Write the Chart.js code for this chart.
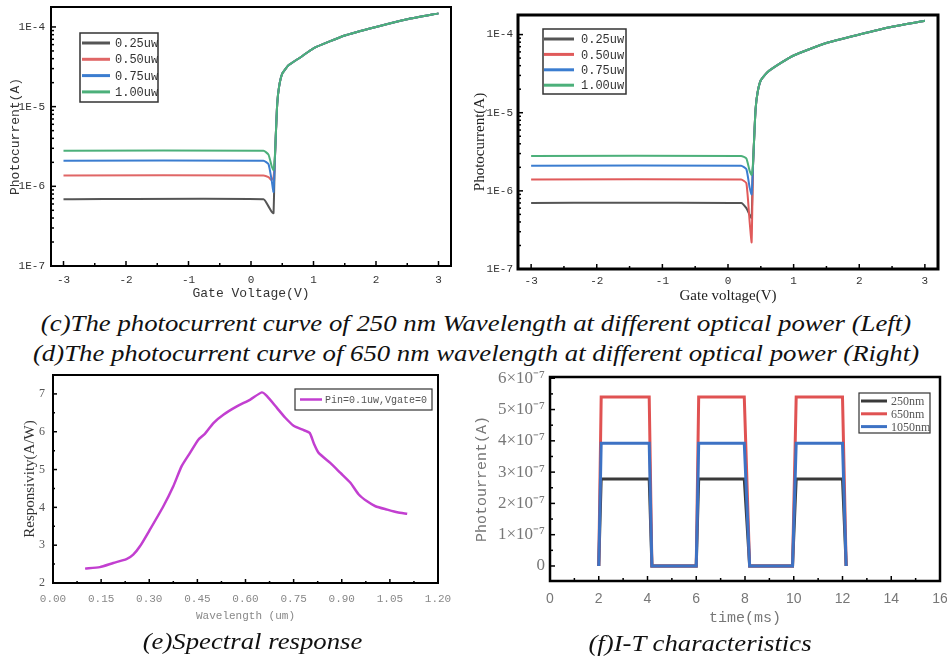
<!DOCTYPE html>
<html>
<head>
<meta charset="utf-8">
<script src="https://cdn.jsdelivr.net/npm/chart.js"></script>
<style>
body { margin: 0; background: #fff; width: 947px; height: 662px; position: relative; overflow: hidden; }
canvas { position: absolute; }
.cap { position: absolute; font-family: "Liberation Serif", serif; font-style: italic; font-size: 24px; line-height: 30px; color: #111; white-space: nowrap; text-align: center; transform: scaleX(1.115); transform-origin: center; }
</style>
</head>
<body>
<canvas id="chartC" width="470" height="305" style="left:0;top:0"></canvas>
<canvas id="chartD" width="477" height="305" style="left:470px;top:0"></canvas>
<div class="cap" style="left:0;width:952px;top:308px">(c)The photocurrent curve of 250 nm Wavelength at different optical power (Left)<br>(d)The photocurrent curve of 650 nm wavelength at different optical power (Right)</div>
<canvas id="chartE" width="470" height="256" style="left:0;top:370px"></canvas>
<canvas id="chartF" width="477" height="262" style="left:470px;top:370px"></canvas>
<div class="cap" style="left:0;width:505px;top:626px">(e)Spectral response</div>
<div class="cap" style="left:470px;width:460px;top:628px">(f)I-T characteristics</div>
<script>
// ---- data ----
const powerLabels = ['0.25uw', '0.50uw', '0.75uw', '1.00uw'];
const gateV = [-3, 0.2, 0.28, 0.33, 0.36, 0.38, 0.40, 0.42, 0.45, 0.5, 0.6, 0.8, 1.0, 1.5, 2.0, 2.5, 3.0];

// (c) 250 nm
const c025 = [6.9e-7, 6.9e-7, 5.6e-7, 4.8e-7, 4.6e-7, 2.0e-6, 5.0e-6, 1.1e-5, 1.8e-5, 2.6e-5, 3.3e-5, 4.2e-5, 5.4e-5, 7.8e-5, 1.0e-4, 1.25e-4, 1.48e-4];
const c050 = [1.37e-6, 1.37e-6, 1.3e-6, 1.2e-6, 1.3e-6, 2.0e-6, 5.0e-6, 1.1e-5, 1.8e-5, 2.6e-5, 3.3e-5, 4.2e-5, 5.4e-5, 7.8e-5, 1.0e-4, 1.25e-4, 1.48e-4];
const c075 = [2.1e-6, 2.1e-6, 1.9e-6, 1.2e-6, 8.5e-7, 2.0e-6, 5.0e-6, 1.1e-5, 1.8e-5, 2.6e-5, 3.3e-5, 4.2e-5, 5.4e-5, 7.8e-5, 1.0e-4, 1.25e-4, 1.48e-4];
const c100 = [2.8e-6, 2.8e-6, 2.5e-6, 1.8e-6, 1.6e-6, 2.2e-6, 5.0e-6, 1.1e-5, 1.8e-5, 2.6e-5, 3.3e-5, 4.2e-5, 5.4e-5, 7.8e-5, 1.0e-4, 1.25e-4, 1.48e-4];

// (d) 650 nm
const d025 = [7.0e-7, 7.0e-7, 6.0e-7, 4.9e-7, 4.5e-7, 2.0e-6, 5.0e-6, 1.1e-5, 1.8e-5, 2.6e-5, 3.3e-5, 4.3e-5, 5.4e-5, 7.8e-5, 1.0e-4, 1.26e-4, 1.5e-4];
const d050 = [1.4e-6, 1.4e-6, 1.25e-6, 4.0e-7, 2.2e-7, 2.0e-6, 5.0e-6, 1.1e-5, 1.8e-5, 2.6e-5, 3.3e-5, 4.3e-5, 5.4e-5, 7.8e-5, 1.0e-4, 1.26e-4, 1.5e-4];
const d075 = [2.1e-6, 2.1e-6, 1.9e-6, 1.1e-6, 9.0e-7, 2.0e-6, 5.0e-6, 1.1e-5, 1.8e-5, 2.6e-5, 3.3e-5, 4.3e-5, 5.4e-5, 7.8e-5, 1.0e-4, 1.26e-4, 1.5e-4];
const d100 = [2.8e-6, 2.8e-6, 2.6e-6, 1.8e-6, 1.6e-6, 2.2e-6, 5.0e-6, 1.1e-5, 1.8e-5, 2.6e-5, 3.3e-5, 4.3e-5, 5.4e-5, 7.8e-5, 1.0e-4, 1.26e-4, 1.5e-4];

const gateTicks = [-3, -2, -1, 0, 1, 2, 3];
const decadeTicks = [1e-7, 1e-6, 1e-5, 1e-4];

// (e) spectral response
const wavelength = [0.10, 0.146, 0.188, 0.229, 0.25, 0.271, 0.302, 0.344, 0.375, 0.401, 0.427, 0.453, 0.474, 0.50, 0.531, 0.573, 0.615, 0.651, 0.667, 0.698, 0.724, 0.75, 0.776, 0.80, 0.8125, 0.828, 0.865, 0.896, 0.927, 0.953, 0.979, 1.005, 1.042, 1.073, 1.104];
const responsivity = [2.38, 2.42, 2.53, 2.63, 2.75, 2.97, 3.41, 4.03, 4.56, 5.09, 5.44, 5.79, 5.95, 6.23, 6.45, 6.67, 6.85, 7.04, 6.94, 6.63, 6.37, 6.16, 6.06, 5.97, 5.70, 5.44, 5.17, 4.91, 4.65, 4.34, 4.16, 4.03, 3.94, 3.87, 3.83];
const wlTicks = [0, 0.15, 0.30, 0.45, 0.60, 0.75, 0.90, 1.05, 1.20];
const respTicks = [2, 3, 4, 5, 6, 7];

// (f) I-T characteristics
const timeMs = [2.0, 2.1, 4.07, 4.18, 6.0, 6.1, 7.97, 8.19, 9.95, 10.1, 12.0, 12.15];
const i250 = [0, 2.78e-7, 2.78e-7, 0, 0, 2.78e-7, 2.78e-7, 0, 0, 2.78e-7, 2.78e-7, 0];
const i650 = [0, 5.4e-7, 5.4e-7, 0, 0, 5.4e-7, 5.4e-7, 0, 0, 5.4e-7, 5.4e-7, 0];
const i1050 = [0, 3.92e-7, 3.92e-7, 0, 0, 3.92e-7, 3.92e-7, 0, 0, 3.92e-7, 3.92e-7, 0];
const timeTicks = [0, 2, 4, 6, 8, 10, 12, 14, 16];
const currentTicks = [0, 1e-7, 2e-7, 3e-7, 4e-7, 5e-7, 6e-7];

const pts = (xs, ys) => xs.map((x, i) => ({ x, y: ys[i] }));
const fixTicks = list => s => { s.ticks = list.map(v => ({ value: v })); };
const supMinus7 = '\u00d710\u207b\u2077';
const noGrid = { display: false, drawTicks: false };

// frame, inward ticks and boxed legend
const frame = {
  id: 'frame',
  afterDatasetsDraw(chart, args, o) {
    const { ctx, chartArea: a } = chart;
    const line = (x1, y1, x2, y2) => { ctx.beginPath(); ctx.moveTo(x1, y1); ctx.lineTo(x2, y2); ctx.stroke(); };
    ctx.save();
    ctx.strokeStyle = '#000';
    ctx.lineWidth = o.tickWidth;
    const xs = chart.scales.x, ys = chart.scales.y;
    xs.ticks.forEach((t, i) => {
      const p = xs.getPixelForValue(t.value);
      line(p, a.bottom, p, a.bottom - o.major);
      if (i < xs.ticks.length - 1) {
        const m = xs.getPixelForValue((t.value + xs.ticks[i + 1].value) / 2);
        line(m, a.bottom, m, a.bottom - o.minor);
      }
    });
    ys.ticks.forEach((t, i) => {
      const p = ys.getPixelForValue(t.value);
      line(a.left, p, a.left + o.major, p);
      if (ys.type === 'logarithmic') {
        for (let k = 2; k < 10; k++) {
          const v = t.value * k;
          if (v > ys.max) break;
          const m = ys.getPixelForValue(v);
          line(a.left, m, a.left + o.minor, m);
        }
      } else if (i < ys.ticks.length - 1) {
        const m = ys.getPixelForValue((t.value + ys.ticks[i + 1].value) / 2);
        line(a.left, m, a.left + o.minor, m);
      }
    });
    ctx.lineWidth = o.width;
    ctx.strokeRect(a.left, a.top, a.right - a.left, a.bottom - a.top);

    const L = o.legend;
    ctx.lineWidth = L.border;
    ctx.strokeStyle = '#333';
    ctx.strokeRect(L.x, L.y, L.w, L.h);
    ctx.font = L.font;
    ctx.fillStyle = L.color;
    ctx.textBaseline = 'middle';
    chart.data.datasets.forEach((ds, i) => {
      const y = L.y + L.first + i * L.row;
      ctx.strokeStyle = ds.borderColor;
      ctx.lineWidth = L.lineWidth;
      line(L.x + L.l0, y, L.x + L.l1, y);
      ctx.fillText(ds.label, L.x + L.tx, y + 1);
    });
    ctx.restore();
  }
};

Chart.defaults.animation = false;
Chart.defaults.responsive = false;
Chart.defaults.plugins.legend.display = false;
Chart.defaults.plugins.tooltip.enabled = false;
Chart.defaults.elements.point.radius = 0;
Chart.defaults.elements.line.tension = 0;

function photoChart(id, series, colors, o) {
  return new Chart(document.getElementById(id), {
    type: 'line',
    data: {
      datasets: series.map((s, i) => ({
        label: powerLabels[i], data: pts(gateV, s), borderColor: colors[i],
        borderWidth: 2, order: series.length - i, tension: 0.15
      }))
    },
    options: {
      layout: { padding: o.padding },
      scales: {
        x: {
          type: 'linear', min: -3.2, max: 3.2,
          grid: noGrid, border: { display: false },
          afterBuildTicks: fixTicks(gateTicks),
          afterFit: s => { s.height = o.xh; s.paddingLeft = 0; s.paddingRight = 0; },
          ticks: { padding: o.xpad, color: o.tickColor, font: o.tickFont, maxRotation: 0, autoSkip: false, callback: v => String(v) },
          title: { display: true, text: o.xTitle, color: o.titleColor, font: o.titleFont, padding: { top: 0, bottom: o.xtb } }
        },
        y: {
          type: 'logarithmic', min: 1e-7, max: 1.78e-4,
          grid: noGrid, border: { display: false },
          afterBuildTicks: fixTicks(decadeTicks),
          afterFit: s => { s.width = o.yw; s.paddingTop = 0; s.paddingBottom = 0; },
          ticks: { padding: o.ypad, color: o.tickColor, font: o.tickFont, autoSkip: false, callback: v => '1E' + Math.round(Math.log10(v)) },
          title: { display: true, text: 'Photocurrent(A)', color: o.titleColor, font: o.yTitleFont, padding: { top: o.ytp, bottom: 0 } }
        }
      },
      plugins: { frame: o.frame }
    },
    plugins: [frame]
  });
}

photoChart('chartC', [c025, c050, c075, c100], ['#555555', '#e06666', '#3b7dd0', '#4cb07a'], {
  padding: { top: 7, right: 19, left: 0, bottom: 0 },
  xh: 39, yw: 51, xpad: 7, ypad: 6, xtb: 4, ytp: 8,
  tickColor: '#333', titleColor: '#333',
  tickFont: { family: 'Liberation Mono', size: 11 },
  titleFont: { family: 'Liberation Mono', size: 13 },
  yTitleFont: { family: 'Liberation Mono', size: 13 },
  xTitle: 'Gate Voltage(V)',
  frame: {
    width: 2, tickWidth: 1.5, major: 5, minor: 3,
    legend: { x: 80, y: 33, w: 78, h: 69, first: 10, row: 16.3, l0: 2, l1: 30, tx: 35, lineWidth: 3, border: 1.5,
      font: '12px "Liberation Mono"', color: '#333' }
  }
});

photoChart('chartD', [d025, d050, d075, d100], ['#555555', '#e05a5a', '#3b7dd0', '#4cb07a'], {
  padding: { top: 15, right: 9, left: 0, bottom: 0 },
  xh: 36, yw: 48, xpad: 5, ypad: 5, xtb: 0, ytp: 1,
  tickColor: '#333', titleColor: '#222',
  tickFont: { family: 'Liberation Mono', size: 11 },
  titleFont: { family: 'Liberation Serif', size: 15 },
  yTitleFont: { family: 'Liberation Serif', size: 15 },
  xTitle: 'Gate voltage(V)',
  frame: {
    width: 3, tickWidth: 1.5, major: 5, minor: 3,
    legend: { x: 73, y: 29, w: 83, h: 65, first: 10, row: 15.4, l0: 1, l1: 31, tx: 38, lineWidth: 3, border: 1.5,
      font: '12px "Liberation Mono"', color: '#333' }
  }
});

new Chart(document.getElementById('chartE'), {
  type: 'line',
  data: {
    datasets: [{ label: 'Pin=0.1uw,Vgate=0', data: pts(wavelength, responsivity), borderColor: '#c23fd0', borderWidth: 2.5, tension: 0.2 }]
  },
  options: {
    layout: { padding: { top: 5, right: 32, left: 0, bottom: 0 } },
    scales: {
      x: {
        type: 'linear', min: 0, max: 1.2,
        grid: noGrid, border: { display: false },
        afterBuildTicks: fixTicks(wlTicks),
        afterFit: s => { s.height = 43; s.paddingLeft = 0; s.paddingRight = 0; },
        ticks: { padding: 9, color: '#888', font: { family: 'Liberation Mono', size: 11 }, maxRotation: 0, autoSkip: false, callback: v => v.toFixed(2) },
        title: { display: true, text: 'Wavelength (um)', color: '#888', font: { family: 'Liberation Mono', size: 11 }, padding: { top: 0, bottom: 3 } }
      },
      y: {
        type: 'linear', min: 2, max: 7.5,
        grid: noGrid, border: { display: false },
        afterBuildTicks: fixTicks(respTicks),
        afterFit: s => { s.width = 53; s.paddingTop = 0; s.paddingBottom = 0; },
        ticks: { padding: 8, color: '#555', font: { family: 'Liberation Serif', size: 12 }, autoSkip: false },
        title: { display: true, text: 'Responsivity(A/W)', color: '#333', font: { family: 'Liberation Serif', size: 15 }, padding: { top: 21, bottom: 0 } }
      }
    },
    plugins: {
      frame: {
        width: 2, tickWidth: 1.5, major: 4, minor: 2,
        legend: { x: 295, y: 19, w: 137, h: 21, first: 10.5, row: 0, l0: 5, l1: 27, tx: 30, lineWidth: 2.5, border: 1.2,
          font: '10px "Liberation Mono"', color: '#555' }
      }
    }
  },
  plugins: [frame]
});

new Chart(document.getElementById('chartF'), {
  type: 'line',
  data: {
    datasets: [
      { label: '250nm', data: pts(timeMs, i250), borderColor: '#3a3a3a', borderWidth: 3, order: 2 },
      { label: '650nm', data: pts(timeMs, i650), borderColor: '#e05252', borderWidth: 3, order: 1 },
      { label: '1050nm', data: pts(timeMs, i1050), borderColor: '#3d72c4', borderWidth: 3, order: 0 }
    ]
  },
  options: {
    layout: { padding: { top: 7, right: 7, left: 0, bottom: 0 } },
    scales: {
      x: {
        type: 'linear', min: 0, max: 16,
        grid: noGrid, border: { display: false },
        afterBuildTicks: fixTicks(timeTicks),
        afterFit: s => { s.height = 51; s.paddingLeft = 0; s.paddingRight = 0; },
        ticks: { padding: 10, color: '#777', font: { family: 'Liberation Sans', size: 14 }, maxRotation: 0, autoSkip: false },
        title: { display: true, text: 'time(ms)', color: '#777', font: { family: 'Liberation Mono', size: 15 }, padding: { top: 0, bottom: 5 } }
      },
      y: {
        type: 'linear', min: -0.48e-7, max: 6.04e-7,
        grid: noGrid, border: { display: false },
        afterBuildTicks: fixTicks(currentTicks),
        afterFit: s => { s.width = 80; s.paddingTop = 0; s.paddingBottom = 0; },
        ticks: { padding: 5, color: '#777', font: { family: 'Liberation Serif', size: 17 }, autoSkip: false,
          callback: v => v === 0 ? '0' : Math.round(v / 1e-7) + supMinus7 },
        title: { display: true, text: 'Photourrent(A)', color: '#777', font: { family: 'Liberation Mono', size: 15 }, padding: { top: 3, bottom: 0 } }
      }
    },
    plugins: {
      frame: {
        width: 2.5, tickWidth: 1.5, major: 5, minor: 3,
        legend: { x: 389, y: 23, w: 71, h: 40, first: 8, row: 12.8, l0: 2, l1: 28, tx: 32, lineWidth: 3, border: 1.2,
          font: '12px "Liberation Serif"', color: '#555' }
      }
    }
  },
  plugins: [frame]
});
</script>
</body>
</html>
